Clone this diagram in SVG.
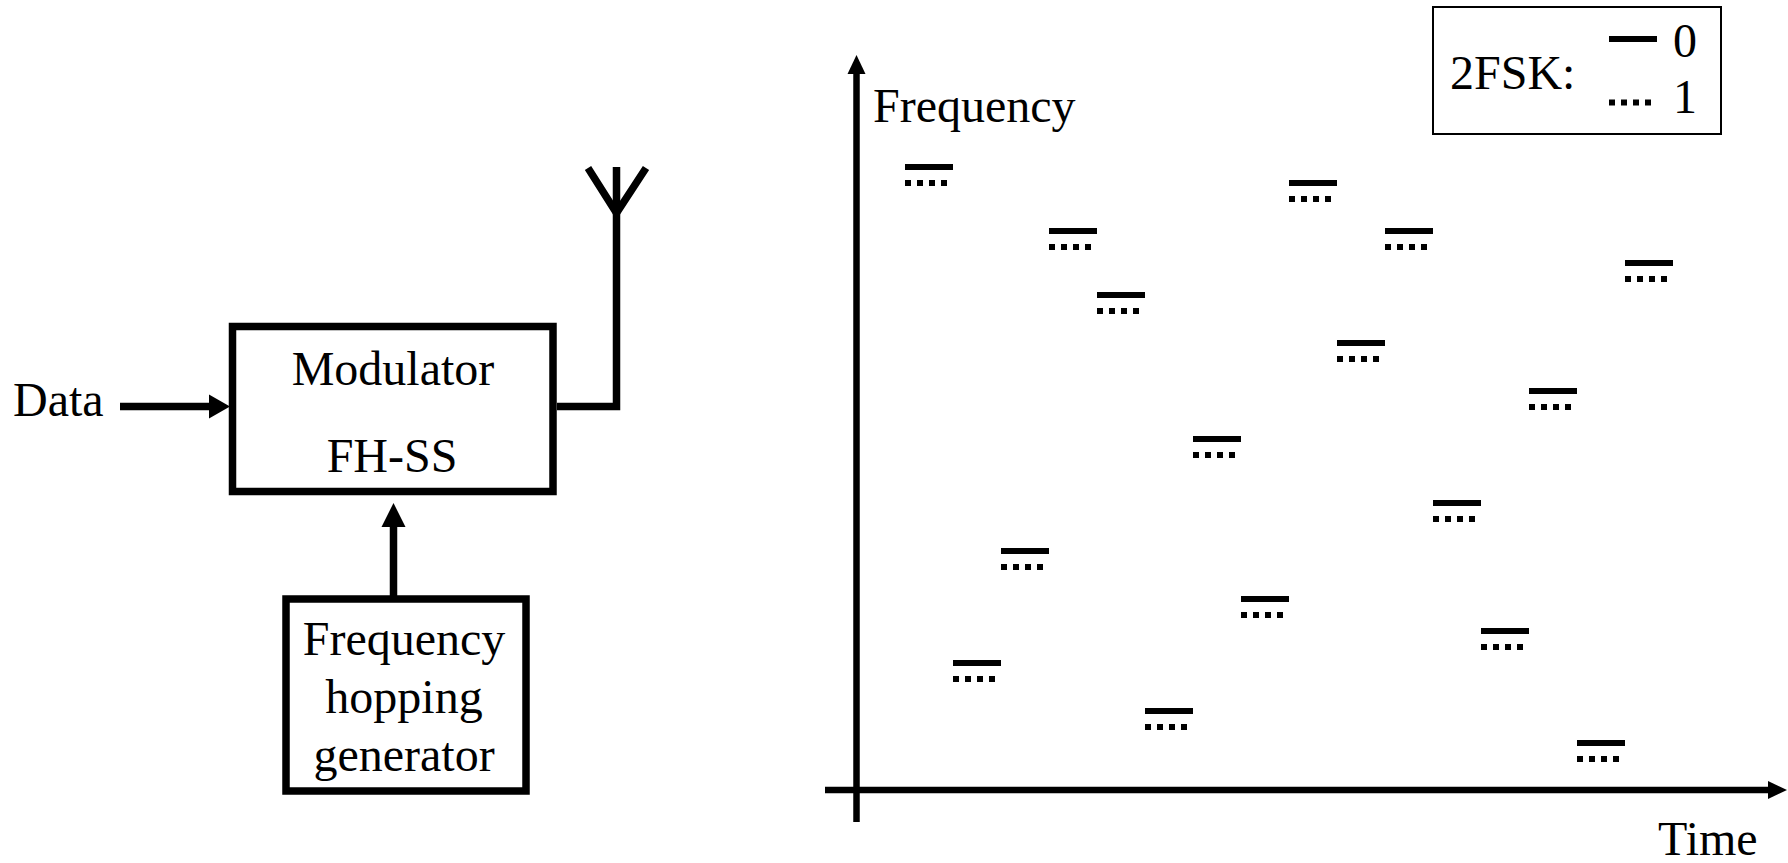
<svg xmlns="http://www.w3.org/2000/svg" width="1788" height="863" viewBox="0 0 1788 863">
<style>
text{font-family:"Liberation Serif","Times New Roman",serif;font-size:48px;fill:#000}
.box{fill:#fff;stroke:#000;stroke-width:7.5}
.ln{fill:none;stroke:#000;stroke-width:7.5}
.ax{fill:none;stroke:#000;stroke-width:6.5}
.head{fill:#000}
.s0{stroke:#000;stroke-width:6}
.s1{stroke:#000;stroke-width:6;stroke-dasharray:6 6}
</style>
<defs>
<g id="mk"><line class="s0" x1="0" y1="0" x2="48" y2="0"/><line class="s1" x1="0" y1="16" x2="48" y2="16"/></g>
</defs>
<rect width="1788" height="863" fill="#fff"/>
<g id="connectors">
<line class="ln" x1="120" y1="406.5" x2="212" y2="406.5"/>
<polygon class="head" points="230,406.5 209,394.5 209,418.5"/>
<line class="ln" x1="393.5" y1="597" x2="393.5" y2="524"/>
<polygon class="head" points="393.5,503 381.5,527 405.5,527"/>
<polyline class="ln" points="557,406.5 616.5,406.5 616.5,167"/>
</g>
<g id="antenna">
<polyline class="ln" points="588,168 616.5,213 646,168"/>
</g>
<g id="data-label"><text x="13" y="416">Data</text></g>
<g id="modulator">
<rect class="box" x="232.5" y="326.5" width="320.5" height="165"/>
<text x="393" y="385" text-anchor="middle">Modulator</text>
<text x="392" y="472" text-anchor="middle">FH-SS</text>
</g>
<g id="generator">
<rect class="box" x="286" y="599" width="240" height="192"/>
<text x="404" y="655" text-anchor="middle">Frequency</text>
<text x="404" y="713" text-anchor="middle">hopping</text>
<text x="404" y="771" text-anchor="middle">generator</text>
</g>
<g id="axes">
<line class="ax" x1="856.5" y1="72" x2="856.5" y2="822"/>
<polygon class="head" points="856.5,55 847.5,74 865.5,74"/>
<line class="ax" x1="825" y1="790" x2="1770" y2="790"/>
<polygon class="head" points="1787,790 1768,781 1768,799"/>
<text x="873" y="122">Frequency</text>
<text x="1658" y="855">Time</text>
</g>
<g id="hops">
<use href="#mk" x="905" y="167"/>
<use href="#mk" x="953" y="663"/>
<use href="#mk" x="1001" y="551"/>
<use href="#mk" x="1049" y="231"/>
<use href="#mk" x="1097" y="295"/>
<use href="#mk" x="1145" y="711"/>
<use href="#mk" x="1193" y="439"/>
<use href="#mk" x="1241" y="599"/>
<use href="#mk" x="1289" y="183"/>
<use href="#mk" x="1337" y="343"/>
<use href="#mk" x="1385" y="231"/>
<use href="#mk" x="1433" y="503"/>
<use href="#mk" x="1481" y="631"/>
<use href="#mk" x="1529" y="391"/>
<use href="#mk" x="1577" y="743"/>
<use href="#mk" x="1625" y="263"/>
</g>
<g id="legend">
<rect x="1433" y="7" width="288" height="127" fill="#fff" stroke="#000" stroke-width="2"/>
<text x="1450" y="89">2FSK:</text>
<line class="s0" x1="1609" y1="39" x2="1657" y2="39"/>
<line class="s1" x1="1609" y1="102.5" x2="1657" y2="102.5"/>
<text x="1673" y="57">0</text>
<text x="1673" y="113">1</text>
</g>
</svg>
